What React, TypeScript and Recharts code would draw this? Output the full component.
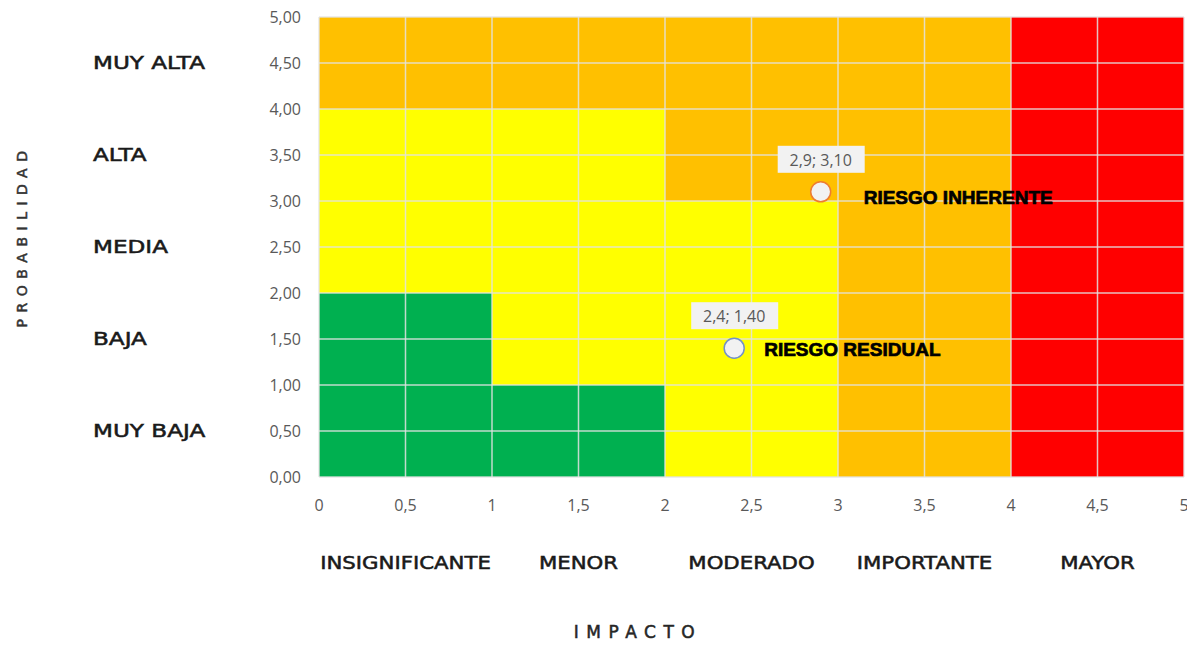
import {
  ScatterChart,
  Scatter,
  XAxis,
  YAxis,
  ReferenceArea,
  ReferenceLine,
} from "recharts";

// Matriz de riesgo: probabilidad vs impacto
const impactLevels = ["INSIGNIFICANTE", "MENOR", "MODERADO", "IMPORTANTE", "MAYOR"];
const probLevels = ["MUY BAJA", "BAJA", "MEDIA", "ALTA", "MUY ALTA"];

// una fila por nivel de probabilidad, de abajo hacia arriba
const zoneMatrix = [
  ["verde", "verde", "amarillo", "naranja", "rojo"],
  ["verde", "amarillo", "amarillo", "naranja", "rojo"],
  ["amarillo", "amarillo", "amarillo", "naranja", "rojo"],
  ["amarillo", "amarillo", "naranja", "naranja", "rojo"],
  ["naranja", "naranja", "naranja", "naranja", "rojo"],
];

const xTicks = [0, 0.5, 1, 1.5, 2, 2.5, 3, 3.5, 4, 4.5, 5];
const yTicks = [0, 0.5, 1, 1.5, 2, 2.5, 3, 3.5, 4, 4.5, 5];

const riskPoints = [
  { name: "RIESGO INHERENTE", impacto: 2.9, probabilidad: 3.1 },
  { name: "RIESGO RESIDUAL", impacto: 2.4, probabilidad: 1.4 },
];

const zoneColors: Record<string, string> = {
  verde: "#00B050",
  amarillo: "#FFFF00",
  naranja: "#FFC000",
  rojo: "#FF0000",
};

const markerStyles = [
  { stroke: "#ED7D31", nameDx: 43, nameDy: 6 },
  { stroke: "#7391C8", nameDx: 30, nameDy: 1 },
];

const catFont = "'DejaVu Sans', Verdana, sans-serif";
const numFont = "'Open Sans', sans-serif";

const isHalf = (v: number) => Math.abs(v - Math.floor(v) - 0.5) < 1e-6;

function YTick({ x, y, payload }: any) {
  const v = payload.value as number;
  return (
    <g>
      <text x={x} y={y} textAnchor="end" dominantBaseline="central" fill="#595959" fontSize={16} fontFamily={numFont}>
        {v.toFixed(2).replace(".", ",")}
      </text>
      {isHalf(v) && (
        <text
          transform={`translate(93, ${y}) scale(1.36, 1)`}
          dominantBaseline="central"
          fill="#1a1a1a"
          stroke="#1a1a1a"
          strokeWidth={0.5}
          fontSize={17}
          fontFamily={catFont}
        >
          {probLevels[Math.floor(v)]}
        </text>
      )}
    </g>
  );
}

function XTick({ x, y, payload }: any) {
  const v = payload.value as number;
  return (
    <g>
      <text x={x} y={y + 28} textAnchor="middle" dominantBaseline="central" fill="#595959" fontSize={16} fontFamily={numFont}>
        {String(v).replace(".", ",")}
      </text>
      {isHalf(v) && (
        <text
          transform={`translate(${x}, ${y + 86}) scale(1.25, 1)`}
          textAnchor="middle"
          dominantBaseline="central"
          fill="#1a1a1a"
          stroke="#1a1a1a"
          strokeWidth={0.5}
          fontSize={17}
          fontFamily={catFont}
        >
          {impactLevels[Math.floor(v)]}
        </text>
      )}
    </g>
  );
}

function RiskMarker(props: any) {
  const { cx, cy, payload, index } = props;
  const st = markerStyles[index] || markerStyles[0];
  const text = `${payload.impacto.toFixed(1).replace(".", ",")}; ${payload.probabilidad
    .toFixed(2)
    .replace(".", ",")}`;
  return (
    <g>
      <rect x={cx - 43} y={cy - 46} width={87} height={27} fill="#F2F2F2" />
      <text x={cx} y={cy - 32} textAnchor="middle" dominantBaseline="central" fill="#595959" fontSize={16} fontFamily={numFont}>
        {text}
      </text>
      <circle cx={cx} cy={cy} r={10} fill="#F2F2F2" stroke={st.stroke} strokeWidth={1.5} />
      <text
        x={cx + st.nameDx}
        y={cy + st.nameDy}
        dominantBaseline="central"
        fill="#000"
        stroke="#000"
        strokeWidth={0.7}
        fontSize={19}
        fontWeight={700}
        fontFamily="'Liberation Sans', Arial, sans-serif"
      >
        {payload.name}
      </text>
    </g>
  );
}

export default function App() {
  return (
    <div style={{ position: "absolute", left: 0, top: 0, background: "#fff" }}>
      <ScatterChart width={1187} height={645} margin={{ top: 17, right: 3, left: 0, bottom: 0 }}>
        <XAxis
          type="number"
          dataKey="impacto"
          domain={[0, 5]}
          ticks={xTicks}
          interval={0}
          height={168}
          axisLine={false}
          tickLine={false}
          tickSize={0}
          tickMargin={0}
          tick={<XTick />}
          label={(p: any) => (
            <text
              x={p.viewBox.x + 319}
              y={p.viewBox.y + 155}
              textAnchor="middle"
              dominantBaseline="central"
              fill="#262626"
              stroke="#262626"
              strokeWidth={0.5}
              fontSize={17}
              letterSpacing={7.5}
              fontFamily={catFont}
            >
              IMPACTO
            </text>
          )}
        />
        <YAxis
          type="number"
          dataKey="probabilidad"
          domain={[0, 5]}
          ticks={yTicks}
          interval={0}
          width={319}
          axisLine={false}
          tickLine={false}
          tickSize={0}
          tickMargin={18}
          tick={<YTick />}
          label={(p: any) => {
            const cx = p.viewBox.x + 22;
            const cy = p.viewBox.y + p.viewBox.height / 2 - 11;
            return (
              <text
                x={cx}
                y={cy}
                transform={`rotate(-90, ${cx}, ${cy})`}
                textAnchor="middle"
                dominantBaseline="central"
                fill="#333"
                stroke="#333"
                strokeWidth={0.5}
                fontSize={14}
                letterSpacing={6.5}
                fontFamily={catFont}
              >
                PROBABILIDAD
              </text>
            );
          }}
        />
        {zoneMatrix.map((row, r) =>
          row.map((zone, c) => (
            <ReferenceArea
              key={`z-${r}-${c}`}
              x1={c}
              x2={c + 1}
              y1={r}
              y2={r + 1}
              fill={zoneColors[zone]}
              fillOpacity={1}
              stroke="none"
            />
          ))
        )}
        {xTicks.map((t) => (
          <ReferenceLine key={`gx-${t}`} x={t} stroke="#E3E3E3" strokeOpacity={0.85} strokeWidth={1.5} />
        ))}
        {yTicks.map((t) => (
          <ReferenceLine key={`gy-${t}`} y={t} stroke="#E3E3E3" strokeOpacity={0.85} strokeWidth={1.5} />
        ))}
        <Scatter data={riskPoints} shape={<RiskMarker />} isAnimationActive={false} />
      </ScatterChart>
    </div>
  );
}
